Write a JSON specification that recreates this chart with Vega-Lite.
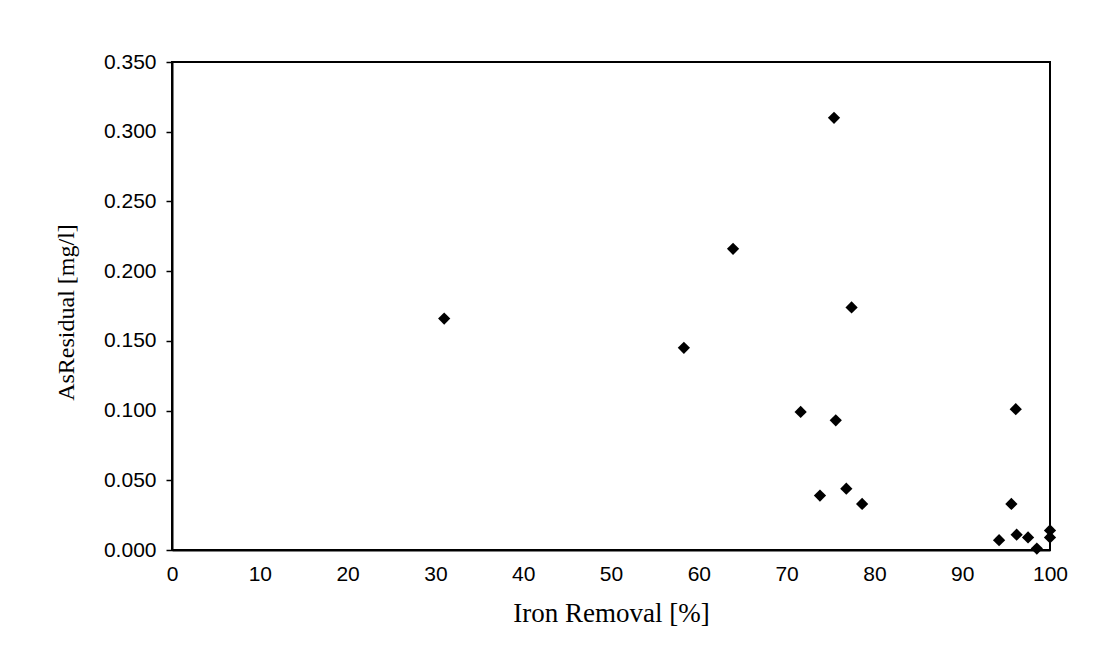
{
  "$schema": "https://vega.github.io/schema/vega-lite/v6.json",
  "width": 878,
  "height": 488,
  "autosize": "none",
  "padding": {"left": 172, "top": 62, "right": 61, "bottom": 122},
  "background": "white",
  "data": {
    "values": [
      {"removal": 31.0, "as": 0.166},
      {"removal": 58.3, "as": 0.145},
      {"removal": 63.9, "as": 0.216},
      {"removal": 75.4, "as": 0.310},
      {"removal": 77.4, "as": 0.174},
      {"removal": 71.6, "as": 0.099},
      {"removal": 75.6, "as": 0.093},
      {"removal": 73.8, "as": 0.039},
      {"removal": 76.8, "as": 0.044},
      {"removal": 78.6, "as": 0.033},
      {"removal": 96.1, "as": 0.101},
      {"removal": 95.6, "as": 0.033},
      {"removal": 94.2, "as": 0.007},
      {"removal": 96.2, "as": 0.011},
      {"removal": 97.5, "as": 0.009},
      {"removal": 98.5, "as": 0.001},
      {"removal": 100.0, "as": 0.014},
      {"removal": 100.0, "as": 0.009}
    ]
  },
  "mark": {"type": "point", "shape": "diamond", "filled": true, "color": "black", "opacity": 1, "size": 150},
  "encoding": {
    "x": {
      "field": "removal",
      "type": "quantitative",
      "scale": {"domain": [0, 100], "nice": false, "zero": true},
      "axis": {
        "title": "Iron Removal  [%]",
        "values": [0, 10, 20, 30, 40, 50, 60, 70, 80, 90, 100],
        "grid": false,
        "ticks": false,
        "domainColor": "black",
        "domainWidth": 2,
        "labelFont": "Liberation Sans",
        "labelFontSize": 21,
        "labelColor": "black",
        "labelPadding": 13,
        "labelFlush": false,
        "titleFont": "Liberation Serif",
        "titleFontSize": 27,
        "titleFontWeight": "normal",
        "titleColor": "black",
        "titleY": 63,
        "titleBaseline": "middle"
      }
    },
    "y": {
      "field": "as",
      "type": "quantitative",
      "scale": {"domain": [0, 0.35], "nice": false},
      "axis": {
        "title": "AsResidual  [mg/l]",
        "values": [0, 0.05, 0.1, 0.15, 0.2, 0.25, 0.3, 0.35],
        "format": ".3f",
        "grid": false,
        "tickSize": 6,
        "tickColor": "black",
        "tickWidth": 1.5,
        "domainColor": "black",
        "domainWidth": 2,
        "labelFont": "Liberation Sans",
        "labelFontSize": 21,
        "labelColor": "black",
        "labelPadding": 10,
        "labelFlush": false,
        "titleFont": "Liberation Serif",
        "titleFontSize": 24,
        "titleFontWeight": "normal",
        "titleColor": "black",
        "titleAngle": -90,
        "titleX": -106,
        "titleY": 250,
        "titleAlign": "center",
        "titleBaseline": "middle"
      }
    }
  },
  "config": {
    "view": {"stroke": "black", "strokeWidth": 2}
  }
}
